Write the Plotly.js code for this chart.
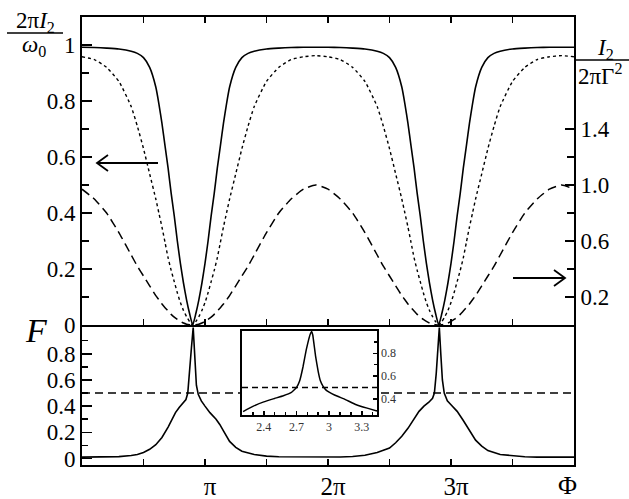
<!DOCTYPE html>
<html><head><meta charset="utf-8">
<script src="https://cdn.plot.ly/plotly-3.0.1.min.js"></script>
<style>html,body{margin:0;padding:0;background:#fff}#chart{width:629px;height:499px}</style>
</head><body><div id="chart"></div><script>
// Phase Φ in units of π (top panel and F panel)
const phi = [0, 0.1, 0.2, 0.3, 0.4, 0.45, 0.5, 0.55, 0.6, 0.625, 0.65, 0.675, 0.7, 0.725, 0.75, 0.775, 0.8, 0.825, 0.85, 0.875, 0.9, 0.925, 0.95, 0.975, 1.0, 1.025, 1.05, 1.075, 1.1, 1.125, 1.15, 1.175, 1.2, 1.25, 1.3, 1.35, 1.4, 1.5, 1.6, 1.7, 1.8, 1.9,
  2.0, 2.1, 2.2, 2.3, 2.4, 2.45, 2.5, 2.55, 2.6, 2.625, 2.65, 2.675, 2.7, 2.725, 2.75, 2.775, 2.8, 2.825, 2.85, 2.875, 2.9, 2.925, 2.95, 2.975, 3.0, 3.025, 3.05, 3.075, 3.1, 3.125, 3.15, 3.175, 3.2, 3.25, 3.3, 3.35, 3.4, 3.5, 3.6, 3.7, 3.8, 3.9, 4.0];
// 2πI2/ω0 curves
const currentSolid = [0.992,0.991,0.989,0.986,0.978,0.97,0.955,0.92,0.85,0.79,0.72,0.64,0.56,0.47,0.39,0.30,0.22,0.15,0.09,0.04,0,0.04,0.09,0.15,0.22,0.30,0.39,0.47,0.56,0.64,0.72,0.79,0.85,0.92,0.955,0.97,0.978,0.986,0.989,0.991,0.992,0.992,
  0.992,0.991,0.989,0.986,0.978,0.97,0.955,0.92,0.85,0.79,0.72,0.64,0.56,0.47,0.39,0.30,0.22,0.15,0.09,0.04,0,0.04,0.09,0.15,0.22,0.30,0.39,0.47,0.56,0.64,0.72,0.79,0.85,0.92,0.955,0.97,0.978,0.986,0.989,0.991,0.992,0.992,0.992];
const currentDotted = [0.958,0.948,0.92,0.87,0.78,0.71,0.63,0.54,0.45,0.40,0.35,0.295,0.24,0.195,0.155,0.115,0.08,0.052,0.03,0.012,0,0.012,0.03,0.052,0.08,0.115,0.155,0.195,0.24,0.295,0.35,0.40,0.45,0.54,0.63,0.71,0.78,0.87,0.92,0.948,0.958,0.962,
  0.958,0.948,0.92,0.87,0.78,0.71,0.63,0.54,0.45,0.40,0.35,0.295,0.24,0.195,0.155,0.115,0.08,0.052,0.03,0.012,0,0.012,0.03,0.052,0.08,0.115,0.155,0.195,0.24,0.295,0.35,0.40,0.45,0.54,0.63,0.71,0.78,0.87,0.92,0.948,0.958,0.962,0.958];
const currentDashed = [0.485,0.45,0.40,0.33,0.25,0.21,0.175,0.14,0.105,0.09,0.075,0.062,0.05,0.038,0.028,0.02,0.013,0.007,0.003,0.001,0,0.001,0.003,0.007,0.013,0.02,0.028,0.038,0.05,0.062,0.075,0.09,0.105,0.14,0.175,0.21,0.25,0.33,0.40,0.45,0.485,0.5,
  0.485,0.45,0.40,0.33,0.25,0.21,0.175,0.14,0.105,0.09,0.075,0.062,0.05,0.038,0.028,0.02,0.013,0.007,0.003,0.001,0,0.001,0.003,0.007,0.013,0.02,0.028,0.038,0.05,0.062,0.075,0.09,0.105,0.14,0.175,0.21,0.25,0.33,0.40,0.45,0.485,0.5,0.485];

// Fano factor F (bottom panel), Φ in units of π
const fPhi = [0, 0.1, 0.2, 0.3, 0.4, 0.45, 0.5, 0.55, 0.6, 0.65, 0.7, 0.73, 0.76, 0.79, 0.82, 0.845, 0.86, 0.875, 0.89, 0.904, 0.915, 0.93, 0.945, 0.97, 1.0, 1.04, 1.09, 1.12, 1.15, 1.2, 1.25, 1.3, 1.4, 1.5, 1.6, 1.8,
  2.0, 2.1, 2.2, 2.3, 2.4, 2.45, 2.5, 2.55, 2.6, 2.65, 2.7, 2.74, 2.78, 2.82, 2.85, 2.865, 2.88, 2.893, 2.905, 2.917, 2.93, 2.945, 2.97, 3.0, 3.05, 3.1, 3.15, 3.2, 3.25, 3.3, 3.4, 3.5, 3.6, 3.7, 3.85, 4.0];
const fSolid = [0.01, 0.01, 0.011, 0.014, 0.022, 0.03, 0.045, 0.07, 0.105, 0.16, 0.24, 0.3, 0.35, 0.39, 0.42, 0.45, 0.5, 0.65, 0.85, 1.0, 0.77, 0.56, 0.49, 0.44, 0.4, 0.35, 0.3, 0.26, 0.21, 0.13, 0.085, 0.055, 0.03, 0.018, 0.013, 0.01,
  0.01, 0.011, 0.015, 0.025, 0.045, 0.06, 0.08, 0.12, 0.17, 0.23, 0.3, 0.36, 0.4, 0.43, 0.46, 0.5, 0.65, 0.85, 1.0, 0.8, 0.6, 0.5, 0.44, 0.41, 0.36, 0.29, 0.21, 0.14, 0.095, 0.06, 0.03, 0.02, 0.013, 0.01, 0.01, 0.01];
const fDashedPhi = [0, 4];
const fDashed = [0.5, 0.5];

// Inset: Φ in radians
const insetPhi = [2.21, 2.3, 2.4, 2.5, 2.58, 2.65, 2.7, 2.73, 2.76, 2.79, 2.815, 2.83, 2.84, 2.85, 2.875, 2.9, 2.92, 2.945, 2.97, 3.0, 3.05, 3.15, 3.25, 3.35, 3.44];
const insetF = [0.29, 0.335, 0.375, 0.405, 0.428, 0.455, 0.5, 0.56, 0.68, 0.83, 0.93, 0.975, 0.99, 0.96, 0.78, 0.64, 0.56, 0.51, 0.48, 0.46, 0.435, 0.395, 0.35, 0.32, 0.295];
const insetDashPhi = [2.2, 3.44];
const insetDash = [0.5, 0.5];

// tick labels
const xTickVals = [1, 2, 3];
const xTickText = ['π', '2π', '3π'];
const xMinorVals = [0.5, 1.5, 2.5, 3.5];
const topTickVals = [0, 0.2, 0.4, 0.6, 0.8, 1];
const topTickText = ['0', '0.2', '0.4', '0.6', '0.8', '1'];
const rightTickVals = [0.2, 0.6, 1.0, 1.4];
const rightTickText = ['0.2', '0.6', '1.0', '1.4'];
const rightMinorVals = [0.4, 0.8, 1.2];
const fTickVals = [0, 0.2, 0.4, 0.6, 0.8];
const fTickText = ['0', '0.2', '0.4', '0.6', '0.8'];
const insetXTickVals = [2.4, 2.7, 3, 3.3];
const insetXTickText = ['2.4', '2.7', '3', '3.3'];
const insetYTickVals = [0.4, 0.6, 0.8];
const insetYTickText = ['0.4', '0.6', '0.8'];

const L = 82, R = 574, T = 17, B = 465;
const px = v => (v - L) / (R - L);
const py = v => (B - v) / (B - T);
const SERIF = 'Liberation Serif, Times New Roman, serif';
const black = '#000';

const line = (w, dash) => ({color: black, width: w, dash: dash || 'solid'});

const traces = [
  {x: phi, y: currentSolid, xaxis: 'x2', yaxis: 'y2', mode: 'lines', line: Object.assign(line(1.6), {shape: 'spline', smoothing: 0.5})},
  {x: phi, y: currentDotted, xaxis: 'x2', yaxis: 'y2', mode: 'lines', line: Object.assign(line(1.4, 'dot'), {shape: 'spline', smoothing: 0.5})},
  {x: phi, y: currentDashed, xaxis: 'x2', yaxis: 'y2', mode: 'lines', line: Object.assign(line(1.5, '9px,5px'), {shape: 'spline', smoothing: 0.5})},
  {x: [0], y: [0], xaxis: 'x2', yaxis: 'y4', mode: 'lines', line: line(0), hoverinfo: 'skip'},
  {x: fPhi, y: fSolid, xaxis: 'x', yaxis: 'y', mode: 'lines', line: line(1.6)},
  {x: fDashedPhi, y: fDashed, xaxis: 'x', yaxis: 'y', mode: 'lines', line: line(1.5, '8px,5px')},
  {x: insetPhi, y: insetF, xaxis: 'x3', yaxis: 'y3', mode: 'lines', line: Object.assign(line(1.5), {shape: 'spline', smoothing: 0.3})},
  {x: insetDashPhi, y: insetDash, xaxis: 'x3', yaxis: 'y3', mode: 'lines', line: line(1.5, '6px,4px')}
];

const axBase = {showgrid: false, zeroline: false, showline: true, linecolor: black, linewidth: 2, ticks: 'inside', tickcolor: black, tickwidth: 1.5};
const minorTicks = (vals, len) => ({tickvals: vals, ticks: 'inside', ticklen: len, tickcolor: black, tickwidth: 1.5});

// arrow shapes (paper coordinates from pixel positions)
const arrowShapes = (x0, x1, y, dir) => {
  const tip = x1, back = x1 - dir * 11;
  return [
    {type: 'line', xref: 'paper', yref: 'paper', x0: px(x0), x1: px(x1), y0: py(y), y1: py(y), line: {color: black, width: 1.8}},
    {type: 'path', xref: 'paper', yref: 'paper',
      path: `M${px(back)},${py(y - 8)} L${px(tip)},${py(y)} L${px(back)},${py(y + 8)}`, line: {color: black, width: 1.8}}
  ];
};

const layout = {
  width: 629, height: 499,
  margin: {l: L, r: 629 - R, t: T, b: 499 - B, pad: 0},
  paper_bgcolor: '#fff', plot_bgcolor: '#fff',
  showlegend: false,
  font: {family: SERIF, size: 23, color: black},
  xaxis: Object.assign({}, axBase, {domain: [0, 1], range: [0, 4], anchor: 'y', tickmode: 'array', tickvals: xTickVals, ticktext: xTickText, ticklen: 6, mirror: false,
    tickfont: {size: 25}, ticklabelshift: 5, ticklabelstandoff: -2, minor: minorTicks(xMinorVals, 6)}),
  yaxis: Object.assign({}, axBase, {domain: [0, 0.3125], range: [-0.05, 1.02], anchor: 'x', tickmode: 'array', tickvals: fTickVals, ticktext: fTickText, ticklen: 10, mirror: true,
    minor: minorTicks([0.1, 0.3, 0.5, 0.7, 0.9], 6)}),
  xaxis2: Object.assign({}, axBase, {domain: [0, 1], range: [0, 4], anchor: 'y2', tickmode: 'array', tickvals: xTickVals, showticklabels: false, ticklen: 6, mirror: 'allticks',
    minor: minorTicks(xMinorVals, 6)}),
  yaxis2: Object.assign({}, axBase, {domain: [0.3125, 1], range: [0, 1.1], anchor: 'x2', tickmode: 'array', tickvals: topTickVals, ticktext: topTickText, ticklen: 10, mirror: true,
    minor: minorTicks([0.1, 0.3, 0.5, 0.7, 0.9], 7)}),
  yaxis4: Object.assign({}, axBase, {overlaying: 'y2', side: 'right', anchor: 'x2', range: [0, 2.2], tickmode: 'array', tickvals: rightTickVals, ticktext: rightTickText, ticklen: 9,
    minor: minorTicks(rightMinorVals, 7)}),
  xaxis3: Object.assign({}, axBase, {domain: [px(242), px(377)], range: [2.2, 3.44], anchor: 'y3', tickmode: 'array', tickvals: insetXTickVals, ticktext: insetXTickText, ticklen: 4, mirror: true, linewidth: 1.6,
    tickfont: {size: 12, color: '#333'}, minor: {dtick: 0.1, tick0: 0, ticks: 'inside', ticklen: 3, tickcolor: black}}),
  yaxis3: Object.assign({}, axBase, {domain: [py(415), py(331)], range: [0.26, 0.995], anchor: 'x3', side: 'right', tickmode: 'array', tickvals: insetYTickVals, ticktext: insetYTickText, ticklen: 4, mirror: true, linewidth: 1.6,
    tickfont: {size: 12, color: '#333'}, minor: {dtick: 0.1, tick0: 0, ticks: 'inside', ticklen: 3, tickcolor: black}}),
  shapes: [
    {type: 'line', xref: 'paper', yref: 'paper', x0: px(7), x1: px(63), y0: py(33), y1: py(33), line: {color: black, width: 1.5}},
    {type: 'line', xref: 'paper', yref: 'paper', x0: px(575), x1: px(640), y0: py(60), y1: py(60), line: {color: black, width: 1.5}}
  ].concat(arrowShapes(158, 97, 163, -1), arrowShapes(513, 565, 278, 1)),
  annotations: [
    {xref: 'paper', yref: 'paper', x: px(35), y: py(22), text: '2π<i>I</i><sub>2</sub>', showarrow: false, xanchor: 'center', yanchor: 'middle', font: {size: 23}},
    {xref: 'paper', yref: 'paper', x: px(34), y: py(46), text: '<i>ω</i><sub>0</sub>', showarrow: false, xanchor: 'center', yanchor: 'middle', font: {size: 23}},
    {xref: 'paper', yref: 'paper', x: px(605), y: py(49), text: '<i>I</i><sub>2</sub>', showarrow: false, xanchor: 'center', yanchor: 'middle', font: {size: 23}},
    {xref: 'paper', yref: 'paper', x: px(576), y: py(74), text: '2πΓ<sup>2</sup>', showarrow: false, xanchor: 'left', yanchor: 'middle', font: {size: 23}},
    {xref: 'paper', yref: 'paper', x: px(36), y: py(330), text: '<i>F</i>', showarrow: false, xanchor: 'center', yanchor: 'middle', font: {size: 34}},
    {xref: 'paper', yref: 'paper', x: px(567), y: py(485), text: 'Φ', showarrow: false, xanchor: 'center', yanchor: 'middle', font: {size: 26}}
  ]
};

Plotly.newPlot('chart', traces, layout, {staticPlot: true, displayModeBar: false});
</script></body></html>
